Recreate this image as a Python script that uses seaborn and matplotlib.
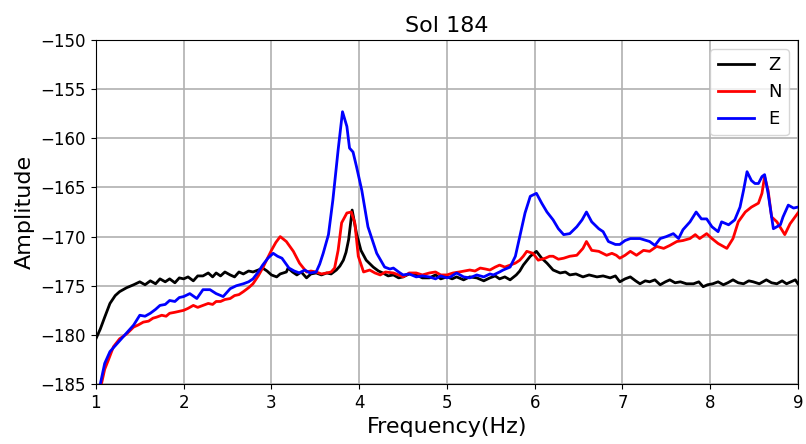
import matplotlib
matplotlib.use("Agg")
import matplotlib.pyplot as plt
import seaborn as sns
import pandas as pd

# Z component (black)
freq_z = [1.0, 1.05, 1.1, 1.16, 1.22, 1.27, 1.35, 1.43, 1.5, 1.56,
          1.62, 1.68, 1.73, 1.79, 1.84, 1.9, 1.95, 2.0, 2.05, 2.11,
          2.16, 2.22, 2.28, 2.33, 2.37, 2.42, 2.47, 2.53, 2.58, 2.63,
          2.68, 2.74, 2.79, 2.85, 2.9, 2.95, 3.0, 3.06, 3.1, 3.17,
          3.19, 3.24, 3.29, 3.34, 3.4, 3.45, 3.51, 3.57, 3.63, 3.68,
          3.74, 3.78, 3.82, 3.85, 3.88, 3.92, 3.97, 4.02, 4.08, 4.16,
          4.22, 4.27, 4.33, 4.39, 4.45, 4.5, 4.57, 4.65, 4.72, 4.8,
          4.87, 4.93, 5.0, 5.06, 5.11, 5.19, 5.26, 5.34, 5.42, 5.49,
          5.55, 5.6, 5.66, 5.72, 5.79, 5.83, 5.87, 5.95, 6.02, 6.08,
          6.14, 6.21, 6.29, 6.35, 6.4, 6.47, 6.55, 6.62, 6.71, 6.78,
          6.86, 6.92, 6.97, 7.03, 7.09, 7.15, 7.2, 7.26, 7.31, 7.37,
          7.43, 7.49, 7.54, 7.6, 7.66, 7.73, 7.81, 7.87, 7.92, 7.97,
          8.03, 8.09, 8.15, 8.2, 8.26, 8.32, 8.38, 8.44, 8.49, 8.56,
          8.64, 8.7, 8.76, 8.82, 8.87, 8.92, 8.97, 9.0]
amp_z = [-180.4, -179.4, -178.2, -176.8, -176.0, -175.6, -175.2, -174.9, -174.6, -174.9,
         -174.5, -174.8, -174.3, -174.6, -174.3, -174.7, -174.2, -174.3, -174.1, -174.5,
         -174.0, -174.0, -173.7, -174.1, -173.7, -174.0, -173.6, -173.9, -174.1, -173.6,
         -173.8, -173.5, -173.6, -173.4, -173.2, -173.5, -173.9, -174.1, -173.8, -173.6,
         -173.2, -173.6, -173.9, -173.6, -174.2, -173.8, -173.7, -173.9, -173.7, -173.8,
         -173.4, -173.0, -172.4, -171.6, -170.3, -167.3, -169.7, -171.4, -172.4, -173.1,
         -173.5, -173.7, -174.0, -173.9, -174.2, -174.1, -173.8, -173.9, -174.2, -174.2,
         -173.9, -174.3, -174.1, -174.3, -174.1, -174.4, -174.1, -174.2, -174.5, -174.2,
         -174.0, -174.3, -174.1, -174.4, -173.9, -173.5, -172.9, -172.0, -171.5, -172.2,
         -172.7, -173.4, -173.7, -173.6, -173.9, -173.8, -174.1, -173.9, -174.1, -174.0,
         -174.2, -174.0, -174.6, -174.3, -174.1, -174.5, -174.8, -174.5, -174.6, -174.4,
         -174.9, -174.6, -174.4, -174.7, -174.6, -174.8, -174.8, -174.6, -175.1, -174.9,
         -174.8, -174.6, -174.9, -174.7, -174.4, -174.7, -174.8, -174.5, -174.6, -174.8,
         -174.4, -174.7, -174.8, -174.5, -174.8, -174.6, -174.4, -174.8]

# N component (red)
freq_n = [1.0, 1.05, 1.1, 1.14, 1.2, 1.27, 1.35, 1.43, 1.48, 1.54,
          1.6, 1.65, 1.69, 1.75, 1.8, 1.84, 1.9, 1.95, 2.0, 2.05,
          2.11, 2.16, 2.22, 2.28, 2.33, 2.37, 2.42, 2.47, 2.53, 2.58,
          2.63, 2.68, 2.74, 2.79, 2.85, 2.9, 2.95, 3.0, 3.05, 3.1,
          3.17, 3.25, 3.32, 3.4, 3.45, 3.51, 3.57, 3.63, 3.68, 3.72,
          3.76, 3.8, 3.86, 3.91, 3.95, 3.99, 4.05, 4.12, 4.18, 4.24,
          4.3, 4.39, 4.45, 4.5, 4.57, 4.65, 4.72, 4.8, 4.87, 4.93,
          5.0, 5.07, 5.14, 5.2, 5.26, 5.32, 5.38, 5.44, 5.49, 5.55,
          5.6, 5.66, 5.72, 5.78, 5.83, 5.87, 5.91, 5.98, 6.04, 6.12,
          6.17, 6.21, 6.27, 6.33, 6.4, 6.48, 6.55, 6.59, 6.65, 6.73,
          6.82, 6.88, 6.93, 6.97, 7.03, 7.09, 7.16, 7.24, 7.31, 7.39,
          7.47, 7.54, 7.62, 7.69, 7.77, 7.83, 7.88, 7.96, 8.02, 8.09,
          8.19, 8.26, 8.32, 8.4, 8.47, 8.55, 8.59, 8.62, 8.66, 8.7,
          8.76, 8.85, 8.91, 9.0]
amp_n = [-187.0, -185.5, -183.5, -182.6, -181.2, -180.4, -179.9, -179.2, -179.0, -178.7,
         -178.6, -178.3, -178.2, -178.0, -178.1, -177.8, -177.7, -177.6, -177.5, -177.3,
         -177.0, -177.2, -177.0, -176.8, -176.9, -176.6, -176.6, -176.4, -176.3, -176.0,
         -175.9, -175.6, -175.2, -174.8, -174.0, -173.2, -172.3, -171.4, -170.6, -170.0,
         -170.5, -171.5, -172.7, -173.6, -173.5, -173.6, -173.8, -173.7, -173.6, -173.2,
         -171.4, -168.6, -167.6, -167.5, -168.6, -172.0, -173.6, -173.4, -173.7, -173.9,
         -173.6, -173.7, -173.9, -174.1, -173.7, -173.7, -173.9, -173.7, -173.6, -173.9,
         -173.9, -173.7, -173.6, -173.5, -173.4, -173.5, -173.2, -173.3, -173.4, -173.1,
         -172.9, -173.1, -172.9, -172.7, -172.4, -172.0, -171.5, -171.7, -172.4, -172.2,
         -172.0, -172.0, -172.3, -172.2, -172.0, -171.9, -171.2, -170.5, -171.4, -171.5,
         -171.9, -171.7, -171.9, -172.2, -171.9, -171.5, -171.9, -171.4, -171.5, -171.0,
         -171.2, -170.9, -170.5, -170.4, -170.2, -169.8, -170.2, -169.7, -170.2, -170.7,
         -171.2, -170.2, -168.5, -167.5, -167.0, -166.6, -165.6, -163.9, -165.3, -168.0,
         -168.5, -169.8, -168.7, -167.6]

# E component (blue)
freq_e = [1.0, 1.05, 1.1, 1.16, 1.24, 1.31, 1.37, 1.43, 1.5, 1.56,
          1.62, 1.68, 1.73, 1.79, 1.84, 1.9, 1.95, 2.0, 2.07, 2.15,
          2.22, 2.3, 2.37, 2.45, 2.53, 2.6, 2.68, 2.74, 2.79, 2.85,
          2.9, 2.96, 3.02, 3.07, 3.12, 3.2, 3.26, 3.32, 3.38, 3.44,
          3.51, 3.55, 3.59, 3.65, 3.7, 3.76, 3.81, 3.86, 3.89, 3.93,
          3.97, 4.03, 4.1, 4.2, 4.29, 4.35, 4.39, 4.45, 4.5, 4.57,
          4.65, 4.72, 4.8, 4.87, 4.93, 5.0, 5.04, 5.11, 5.19, 5.26,
          5.34, 5.42, 5.49, 5.53, 5.6, 5.64, 5.72, 5.78, 5.83, 5.89,
          5.95, 6.02, 6.08, 6.14, 6.21, 6.27, 6.33, 6.4, 6.48, 6.54,
          6.59, 6.65, 6.73, 6.78, 6.84, 6.92, 6.97, 7.03, 7.09, 7.2,
          7.31, 7.37, 7.43, 7.5, 7.58, 7.64, 7.69, 7.77, 7.84, 7.9,
          7.96, 8.02, 8.09, 8.13, 8.21, 8.28, 8.34, 8.38, 8.42, 8.47,
          8.51, 8.55, 8.59, 8.62, 8.66, 8.72, 8.8, 8.83, 8.89, 8.95,
          9.0]
amp_e = [-188.0, -185.0, -182.9, -181.7, -180.9, -180.2, -179.6, -179.0, -178.0, -178.1,
         -177.8, -177.4, -177.0, -176.9, -176.5, -176.6, -176.2, -176.1, -175.8, -176.3,
         -175.4, -175.4, -175.8, -176.1, -175.3, -175.0, -174.8, -174.6, -174.3, -173.6,
         -172.9, -172.2, -171.7, -172.0, -172.2, -173.2, -173.5, -173.7, -173.4, -173.7,
         -173.6, -172.8, -171.7, -169.8, -166.3, -161.2, -157.3, -158.8, -161.0, -161.4,
         -162.9, -165.3, -169.0, -171.7, -173.1, -173.3, -173.2, -173.6, -173.9, -173.8,
         -174.1, -174.0, -174.1, -174.3, -174.0, -174.2, -174.1, -173.7, -174.1, -174.2,
         -173.9, -174.1, -173.8, -173.9, -173.6, -173.4, -173.1, -172.0, -170.0, -167.6,
         -165.9, -165.6, -166.6, -167.5, -168.3, -169.2, -169.8, -169.7, -169.0, -168.3,
         -167.5, -168.5, -169.2, -169.5, -170.5, -170.8, -170.8, -170.4, -170.2, -170.2,
         -170.5, -170.9, -170.2, -170.0, -169.7, -170.2, -169.3, -168.5, -167.5, -168.2,
         -168.2, -169.0, -169.5, -168.5, -168.8, -168.3, -167.0, -165.3, -163.4, -164.3,
         -164.6, -164.6, -163.9, -163.7, -165.6, -169.2, -168.8, -168.0, -166.8, -167.1,
         -167.0]

components = ["Z", "N", "E"]
colors = {"Z": "black", "N": "red", "E": "blue"}

df = pd.concat([
    pd.DataFrame({"freq": freq_z, "amp": amp_z, "comp": "Z"}),
    pd.DataFrame({"freq": freq_n, "amp": amp_n, "comp": "N"}),
    pd.DataFrame({"freq": freq_e, "amp": amp_e, "comp": "E"}),
], ignore_index=True)

fig, ax = plt.subplots(figsize=(8.06, 4.44), dpi=100)
fig.subplots_adjust(left=0.119, right=0.990, top=0.910, bottom=0.135)

sns.lineplot(data=df, x="freq", y="amp", hue="comp", hue_order=components,
             palette=colors, estimator=None, sort=False, linewidth=2, ax=ax)

ax.set_xlim(1, 9)
ax.set_ylim(-185, -150)
ax.set_xticks(range(1, 10))
ax.set_yticks(range(-185, -149, 5))
ax.tick_params(labelsize=12)
ax.grid(True, color="#b0b0b0", linewidth=1.2)
ax.set_axisbelow(True)

ax.set_title("Sol 184", fontsize=16)
ax.set_xlabel("Frequency(Hz)", fontsize=16)
ax.set_ylabel("Amplitude", fontsize=16)
ax.legend(title=None, loc="upper right", fontsize=13)

fig.savefig("out.png")
